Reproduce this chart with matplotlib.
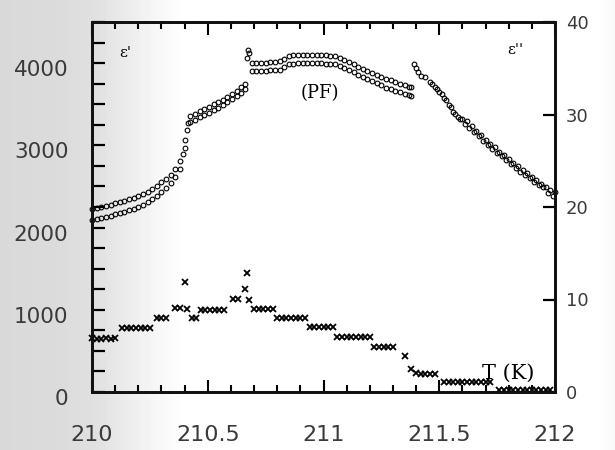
import numpy as np
import matplotlib
matplotlib.use("Agg")
import matplotlib.pyplot as plt
from matplotlib.transforms import ScaledTranslation
from matplotlib.ticker import MultipleLocator

# ---- data: eps' (open circles, left axis), upper branch ----
T_up = [210.00, 210.02, 210.04, 210.06, 210.08, 210.10, 210.12, 210.14, 210.16, 210.18,
        210.20, 210.22, 210.24, 210.26, 210.28, 210.30, 210.32, 210.34, 210.36, 210.38,
        210.395, 210.40, 210.403, 210.41, 210.416,
        210.425, 210.445, 210.465, 210.485, 210.505, 210.525, 210.545, 210.565, 210.585,
        210.605, 210.625, 210.645, 210.66,
        210.668, 210.672, 210.677,
        210.69, 210.71, 210.73, 210.75, 210.77, 210.79, 210.81, 210.83, 210.85, 210.87,
        210.89, 210.91, 210.93, 210.95, 210.97, 210.99, 211.01, 211.03, 211.05,
        211.07, 211.09, 211.11, 211.13, 211.15, 211.17, 211.19, 211.21, 211.23, 211.25,
        211.27, 211.29, 211.31, 211.33, 211.35, 211.37, 211.38,
        211.39, 211.40, 211.41, 211.42,
        211.44, 211.46, 211.48, 211.50, 211.52, 211.54, 211.56, 211.58, 211.60, 211.62,
        211.64, 211.66, 211.68, 211.70, 211.72, 211.74, 211.76, 211.78, 211.80, 211.82,
        211.84, 211.86, 211.88, 211.90, 211.92, 211.94, 211.96, 211.98, 212.00]
eps1_up = [2225, 2235, 2250, 2262, 2278, 2295, 2312, 2328, 2345, 2362,
           2385, 2408, 2435, 2468, 2505, 2548, 2592, 2645, 2710, 2810,
           2900, 2965, 3065, 3185, 3270,
           3355, 3385, 3415, 3440, 3470, 3500, 3525, 3555, 3590,
           3625, 3665, 3705, 3750,
           4060, 4165, 4120,
           4000, 4000, 4000, 4005, 4010, 4015, 4025, 4050, 4085, 4095,
           4100, 4100, 4100, 4100, 4100, 4100, 4095, 4090, 4085,
           4065, 4040, 4010, 3985, 3955, 3925, 3900, 3880, 3860, 3830,
           3805, 3790, 3770, 3750, 3730, 3715, 3710,
           3990, 3940, 3890, 3840,
           3830, 3775, 3715, 3645, 3570, 3490, 3410, 3350, 3325, 3300,
           3240, 3180, 3120, 3070, 3020, 2975, 2925, 2880, 2830, 2790,
           2745, 2700, 2660, 2615, 2575, 2535, 2495, 2460, 2430]

# ---- data: eps' lower branch ----
T_lo = [210.00, 210.02, 210.04, 210.06, 210.08, 210.10, 210.12, 210.14, 210.16, 210.18,
        210.20, 210.22, 210.24, 210.26, 210.28, 210.30, 210.32, 210.34, 210.36, 210.38,
        210.425, 210.445, 210.465, 210.485, 210.505, 210.525, 210.545, 210.565, 210.585,
        210.605, 210.625, 210.645, 210.66,
        210.69, 210.71, 210.73, 210.75, 210.77, 210.79, 210.81, 210.83, 210.85, 210.87,
        210.89, 210.91, 210.93, 210.95, 210.97, 210.99, 211.01, 211.03, 211.05,
        211.07, 211.09, 211.11, 211.13, 211.15, 211.17, 211.19, 211.21, 211.23, 211.25,
        211.27, 211.29, 211.31, 211.33, 211.35, 211.37, 211.38,
        211.47, 211.49, 211.51, 211.53, 211.55, 211.57, 211.59, 211.61, 211.63, 211.65,
        211.67, 211.69, 211.71, 211.73, 211.75, 211.77, 211.79, 211.81, 211.83, 211.85,
        211.87, 211.89, 211.91, 211.93, 211.95, 211.97, 211.99]
eps1_lo = [2090, 2100, 2115, 2128, 2143, 2160, 2177, 2193, 2210, 2228,
           2250, 2280, 2310, 2345, 2385, 2430, 2485, 2545, 2615, 2715,
           3280, 3310, 3340, 3370, 3395, 3425, 3460, 3490, 3525,
           3565, 3600, 3640, 3690,
           3905, 3905, 3905, 3910, 3915, 3915, 3915, 3950, 3990, 3995,
           4000, 4000, 4000, 4000, 4000, 4000, 3995, 3990, 3985,
           3960, 3940, 3915, 3890, 3860, 3835, 3805, 3785, 3760, 3730,
           3700, 3680, 3660, 3645, 3625, 3610, 3595,
           3745, 3690, 3625, 3550, 3470, 3385, 3315, 3260, 3215, 3165,
           3110, 3055, 3005, 2955, 2910, 2865, 2820, 2775, 2720, 2680,
           2640, 2600, 2560, 2520, 2490, 2420, 2380]

# ---- data: eps'' (crosses, right axis) ----
T_x = [210.00, 210.02, 210.04, 210.06, 210.08, 210.10,
       210.13, 210.15, 210.17, 210.19, 210.21, 210.23, 210.25,
       210.28, 210.30, 210.32,
       210.36, 210.38, 210.40, 210.41, 210.43, 210.45,
       210.47, 210.49, 210.51, 210.53, 210.55, 210.57,
       210.61, 210.63, 210.66, 210.67, 210.68,
       210.70, 210.72, 210.74, 210.76, 210.78,
       210.80, 210.82, 210.84, 210.86, 210.88, 210.90, 210.92,
       210.94, 210.96, 210.98, 211.00, 211.02, 211.04,
       211.06, 211.08, 211.10, 211.12, 211.14, 211.16, 211.18, 211.20,
       211.22, 211.24, 211.26, 211.28, 211.30,
       211.35, 211.38, 211.40,
       211.42, 211.44, 211.46, 211.48,
       211.52, 211.54, 211.56, 211.58, 211.60, 211.62, 211.64, 211.66, 211.68, 211.70, 211.72,
       211.76, 211.78, 211.80, 211.82, 211.84, 211.86, 211.88, 211.90, 211.92, 211.94, 211.96, 211.98]
eps2 = [5.8, 5.7, 5.7, 5.8, 5.7, 5.8,
        6.9, 6.9, 6.9, 6.9, 6.9, 6.9, 6.9,
        8.0, 8.0, 8.0,
        9.1, 9.1, 11.9, 9.0, 8.0, 8.0,
        8.9, 8.9, 8.9, 8.9, 8.9, 8.9,
        10.1, 10.1, 11.1, 12.9, 10.0,
        9.0, 9.0, 9.0, 9.0, 9.0,
        8.0, 8.0, 8.0, 8.0, 8.0, 8.0, 8.0,
        7.0, 7.0, 7.0, 7.0, 7.0, 7.0,
        5.9, 5.9, 5.9, 5.9, 5.9, 5.9, 5.9, 5.9,
        4.9, 4.9, 4.9, 4.9, 4.9,
        3.9, 2.5, 2.1,
        1.9, 1.9, 1.9, 1.9,
        1.1, 1.1, 1.1, 1.1, 1.1, 1.1, 1.1, 1.1, 1.1, 1.1, 1.1,
        0.2, 0.2, 0.2, 0.2, 0.2, 0.2, 0.2, 0.2, 0.2, 0.2, 0.2, 0.2]

left_ticks = [0, 1000, 2000, 3000, 4000]
right_ticks = [0, 10, 20, 30, 40]
x_ticks = [210, 210.5, 211, 211.5, 212]
x_ticklabels = ["210", "210.5", "211", "211.5", "212"]

# ---- figure ----
W, H = 615, 450
fig = plt.figure(figsize=(W / 100, H / 100), dpi=100, facecolor="white")

# scanned-page shading on the left
bg = fig.add_axes([0, 0, 1, 1], zorder=-10)
px = np.arange(W)
shade = np.interp(px, [0, 60, 95, 125, 155, 185, 595, 615], [0.85, 0.86, 0.88, 0.92, 0.965, 1.0, 1.0, 0.975])
bg.imshow(np.tile(shade, (10, 1)), aspect="auto", extent=[0, 1, 0, 1], cmap="gray", vmin=0, vmax=1)
bg.axis("off")

ax = fig.add_axes([92 / W, 1 - 392 / H, (555 - 92) / W, (392 - 22) / H])
ax.set_facecolor("none")
ax2 = ax.twinx()
ax2.set_facecolor("none")

ax.plot(T_up, eps1_up, "o", ms=3.4, mfc="none", mec="black", mew=0.8, clip_on=False)
ax.plot(T_lo, eps1_lo, "o", ms=3.4, mfc="none", mec="black", mew=0.8, clip_on=False)
ax2.plot(T_x, eps2, "x", ms=4.5, mec="black", mew=1.3, clip_on=False)

ax.set_xlim(210, 212)
ax.set_ylim(0, 4500)
ax2.set_ylim(0, 40)

for a in (ax, ax2):
    for s in a.spines.values():
        s.set_linewidth(2.0)
        s.set_color("#111111")

lab_col = "#3a3a3a"
ax.set_xticks(x_ticks)
ax.set_xticklabels(x_ticklabels, fontsize=16, color=lab_col, family="DejaVu Sans")
ax.xaxis.set_minor_locator(MultipleLocator(0.1))
ax.set_yticks(left_ticks)
ax.set_yticklabels([str(v) for v in left_ticks], fontsize=15.5, color=lab_col, family="DejaVu Sans")
ax.yaxis.set_minor_locator(MultipleLocator(250))
ax.tick_params(axis="x", which="major", direction="in", length=9, width=1.5, pad=24,
               top=True, bottom=True)
ax.tick_params(axis="x", which="minor", direction="in", length=5, width=1.5, top=True, bottom=True)
ax.tick_params(axis="y", which="both", direction="in", length=9, width=1.6, pad=17, right=False)

ax2.set_yticks(right_ticks)
ax2.set_yticklabels([str(v) for v in right_ticks], fontsize=13, color=lab_col, family="DejaVu Sans")
ax2.tick_params(axis="y", direction="in", length=9, width=1.6, pad=8)

# left labels sit a little below their ticks in the scan
off = ScaledTranslation(0, -5 / 100, fig.dpi_scale_trans)
for lbl in ax.get_yticklabels():
    lbl.set_transform(lbl.get_transform() + off)

def data_px(xp, yp):
    return ((xp - 92) / (555 - 92), (392 - yp) / (392 - 22))

ax.text(*data_px(125, 53), "ε'", transform=ax.transAxes, fontsize=11, family="DejaVu Serif",
        ha="center", va="center")
ax.text(*data_px(515, 50), "ε''", transform=ax.transAxes, fontsize=11, family="DejaVu Serif",
        ha="center", va="center")
ax.text(*data_px(320, 93), "(PF)", transform=ax.transAxes, fontsize=13, family="DejaVu Serif",
        ha="center", va="center")
ax.text(*data_px(508, 373), "T (K)", transform=ax.transAxes, fontsize=15, family="DejaVu Serif",
        ha="center", va="center")

fig.savefig("out.png", dpi=100, facecolor=fig.get_facecolor())
